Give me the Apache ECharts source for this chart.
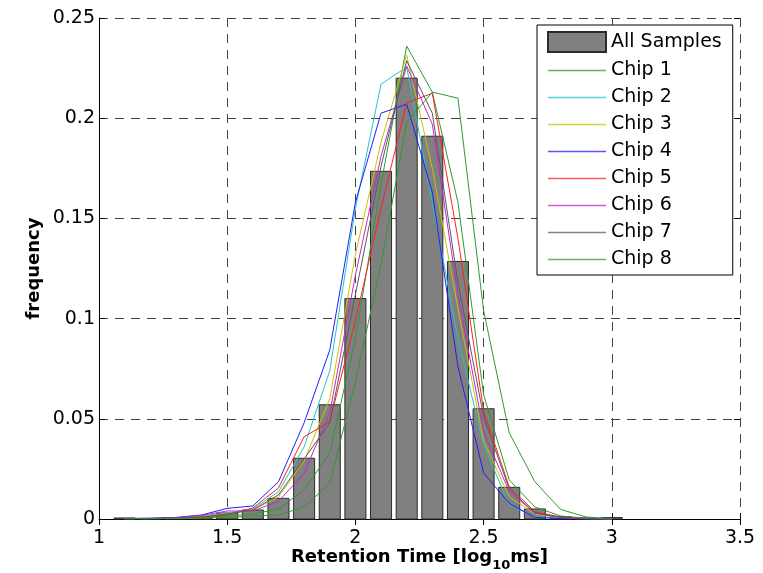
<!DOCTYPE html>
<html>
<head>
<meta charset="utf-8">
<script src="https://cdn.jsdelivr.net/npm/echarts@6/dist/echarts.min.js"></script>
<style>
  html, body { margin: 0; padding: 0; background: #fff; }
  #chart { width: 763px; height: 573px; }
</style>
</head>
<body>
<div id="chart"></div>
<script>
// Bin centres (log10 of retention time in ms)
const binCenters = [1.1, 1.2, 1.3, 1.4, 1.5, 1.6, 1.7, 1.8, 1.9, 2.0,
                    2.1, 2.2, 2.3, 2.4, 2.5, 2.6, 2.7, 2.8, 2.9, 3.0];

// Pooled histogram over all samples
const allSamples = [0.0005, 0.0002, 0.0004, 0.0012, 0.003, 0.0045, 0.0103, 0.0303, 0.057, 0.110,
                    0.1735, 0.220, 0.191, 0.1285, 0.055, 0.0158, 0.005, 0.0012, 0.0005, 0.0007];

// Per-chip frequency curves
const chip1 = [0.0002, 0.0002, 0.0003, 0.0008, 0.0015, 0.0025, 0.005, 0.0145, 0.033, 0.090,
               0.167, 0.236, 0.213, 0.158, 0.062, 0.0195, 0.006, 0.0015, 0.0004, 0.0001];
const chip2 = [0.0002, 0.0003, 0.0006, 0.0015, 0.003, 0.005, 0.0136, 0.036, 0.074, 0.155,
               0.217, 0.2255, 0.158, 0.090, 0.037, 0.007, 0.0012, 0.0004, 0.0001, 0];
const chip3 = [0.0002, 0.0002, 0.0005, 0.0012, 0.0025, 0.0045, 0.011, 0.029, 0.060, 0.132,
               0.188, 0.2315, 0.175, 0.105, 0.039, 0.011, 0.0025, 0.0006, 0.0002, 0];
const chip4 = [0.0003, 0.0004, 0.0008, 0.002, 0.0053, 0.0065, 0.0186, 0.048, 0.0843, 0.158,
               0.2025, 0.207, 0.163, 0.076, 0.023, 0.0078, 0.0008, 0.0002, 0, 0];
const chip5 = [0.0001, 0.0002, 0.0004, 0.001, 0.002, 0.0055, 0.0155, 0.041, 0.0486, 0.099,
               0.155, 0.2077, 0.2124, 0.140, 0.054, 0.016, 0.0036, 0.001, 0.0003, 0];
const chip6 = [0.0002, 0.0003, 0.0006, 0.0018, 0.004, 0.004, 0.0088, 0.0228, 0.053, 0.1216,
               0.181, 0.226, 0.197, 0.112, 0.0436, 0.0136, 0.003, 0.0008, 0.0002, 0];
const chip7 = [0.0002, 0.0002, 0.0004, 0.001, 0.0025, 0.0045, 0.012, 0.030, 0.048, 0.112,
               0.176, 0.2287, 0.2025, 0.118, 0.051, 0.015, 0.003, 0.0008, 0.0002, 0];
const chip8 = [0.0001, 0.0001, 0.0002, 0.0005, 0.0008, 0.0015, 0.002, 0.006, 0.0178, 0.0685,
               0.127, 0.198, 0.213, 0.210, 0.104, 0.043, 0.0186, 0.0048, 0.001, 0.0002];

const chipNames = ['Chip 1', 'Chip 2', 'Chip 3', 'Chip 4', 'Chip 5', 'Chip 6', 'Chip 7', 'Chip 8'];
const chipData = [chip1, chip2, chip3, chip4, chip5, chip6, chip7, chip8];
const chipColors = ['#2e9b2e', '#22c4c4', '#c4c400', '#1f1fff', '#ff1f1f', '#cc22cc', '#5a5a5a', '#2e9b2e'];

const xTicks = [1, 1.5, 2, 2.5, 3, 3.5];
const yTicks = [0, 0.05, 0.1, 0.15, 0.2, 0.25];

const BAR_HALF_WIDTH = 0.041;   // half bin width in axis units
const FONT = 'DejaVu Sans';

const chart = echarts.init(document.getElementById('chart'), null, { renderer: 'canvas' });

const gridLine = { show: true, lineStyle: { color: '#444', type: [9, 7], width: 1 } };

const histSeries = {
  name: 'All Samples',
  type: 'custom',
  xAxisIndex: 0, yAxisIndex: 0,
  z: 2,
  itemStyle: { color: '#808080', borderColor: '#2a2a2a', borderWidth: 1 },
  data: binCenters.map((x, i) => [x, allSamples[i]]),
  encode: { x: 0, y: 1 },
  renderItem: function (params, api) {
    const x = api.value(0), v = api.value(1);
    const tl = api.coord([x - BAR_HALF_WIDTH, v]);
    const br = api.coord([x + BAR_HALF_WIDTH, 0]);
    return {
      type: 'rect',
      shape: { x: tl[0], y: tl[1], width: br[0] - tl[0], height: br[1] - tl[1] },
      style: { fill: '#808080', stroke: '#2a2a2a', lineWidth: 1 }
    };
  }
};

const lineSeries = chipNames.map((name, k) => ({
  name: name,
  type: 'line',
  xAxisIndex: 0, yAxisIndex: 0,
  z: 3,
  symbol: 'none',
  smooth: false,
  color: chipColors[k],
  lineStyle: { color: chipColors[k], width: 1 },
  data: binCenters.map((x, i) => [x, chipData[k][i]])
}));

// Legend entries: a filled patch for the histogram, plain line samples for the chips
const legendEntries = [{ name: 'All Samples', icon: 'rect' }].concat(
  chipNames.map((n, k) => ({
    name: n,
    icon: 'line',
    itemStyle: { color: chipColors[k], borderColor: chipColors[k], borderWidth: 1.5, opacity: 0.75 }
  }))
);

chart.setOption({
  animation: false,
  backgroundColor: '#fff',
  textStyle: { fontFamily: FONT },
  grid: { left: 99, right: 23, top: 18, bottom: 54, containLabel: false, outerBoundsMode: 'none' },
  legend: {
    orient: 'vertical',
    left: 537, top: 25,
    padding: [6, 11, 6, 10],
    backgroundColor: '#fff',
    borderColor: '#000', borderWidth: 1,
    itemWidth: 58, itemHeight: 20, itemGap: 8,
    textStyle: { fontFamily: FONT, fontSize: 19, color: '#000' },
    data: legendEntries
  },
  xAxis: [{
    type: 'value', position: 'bottom',
    min: 1, max: 3.5, interval: 0.5,
    name: 'Retention Time [log{sub|10}ms]',
    nameLocation: 'middle', nameGap: 23, nameMoveOverlap: false,
    nameTextStyle: {
      fontFamily: FONT, fontSize: 18, fontWeight: 'bold', color: '#000',
      rich: { sub: { fontFamily: FONT, fontSize: 13, fontWeight: 'bold', color: '#000', padding: [17, 0, 0, 0] } }
    },
    axisLine: { show: true, onZero: false, lineStyle: { color: '#000', width: 1 } },
    axisTick: { show: true, inside: true, length: 6, lineStyle: { color: '#000' } },
    axisLabel: { fontFamily: FONT, fontSize: 19, color: '#000', margin: 10,
                 formatter: v => String(+v.toFixed(2)) },
    splitLine: gridLine
  }, {
    type: 'value', position: 'top',
    min: 1, max: 3.5, interval: 0.5,
    axisLine: { show: false },
    axisTick: { show: true, inside: true, length: 6, lineStyle: { color: '#000' } },
    axisLabel: { show: false },
    splitLine: { show: false }
  }],
  yAxis: [{
    type: 'value', position: 'left',
    min: 0, max: 0.25, interval: 0.05,
    name: 'frequency',
    nameLocation: 'middle', nameGap: 56, nameMoveOverlap: false,
    nameTextStyle: { fontFamily: FONT, fontSize: 18, fontWeight: 'bold', color: '#000' },
    axisLine: { show: true, onZero: false, lineStyle: { color: '#000', width: 1 } },
    axisTick: { show: true, inside: true, length: 6, lineStyle: { color: '#000' } },
    axisLabel: { fontFamily: FONT, fontSize: 19, color: '#000', margin: 4,
                 formatter: v => String(+v.toFixed(2)) },
    splitLine: gridLine
  }, {
    type: 'value', position: 'right',
    min: 0, max: 0.25, interval: 0.05,
    axisLine: { show: false },
    axisTick: { show: true, inside: true, length: 6, lineStyle: { color: '#000' } },
    axisLabel: { show: false },
    splitLine: { show: false }
  }],
  series: [histSeries].concat(lineSeries)
});
</script>
</body>
</html>
